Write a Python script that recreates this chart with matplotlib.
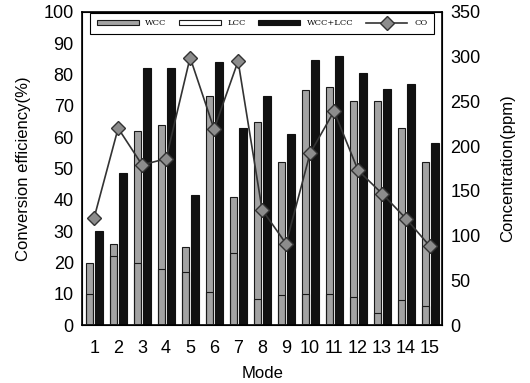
import numpy as np
import matplotlib.pyplot as plt

plt.rcParams['font.family'] = ['Liberation Sans', 'DejaVu Sans']

modes = list(range(1, 16))
wcc = [20, 26, 62, 64, 25, 73, 41, 65, 52, 75, 76, 71.5, 71.5, 63, 52]
lcc = [10, 22, 20, 18, 17, 10.5, 23, 8.5, 9.5, 10, 10, 9, 4, 8, 6]
wcc_lcc = [30, 48.5, 82, 82, 41.5, 84, 63, 73, 61, 84.5, 86, 80.5, 75.5, 77, 58]
co = [120, 220, 179, 186, 299, 219, 295, 129, 91, 192, 239, 173, 147, 119, 88]

x = np.arange(len(modes)) + 1

fig = plt.figure(figsize=(5.3, 3.83), dpi=100)
ax = fig.add_axes([0.155, 0.151, 0.679, 0.818])

ax.bar(x - 0.2, wcc, width=0.28, color="#a3a3a3", edgecolor="#1a1a1a",
       linewidth=0.8, label="WCC", zorder=2)
# LCC drawn as an outline over the WCC bar, only its top edge stands out
ax.bar(x - 0.2, lcc, width=0.28, facecolor="none", edgecolor="#1a1a1a",
       linewidth=0.8, label="LCC", zorder=3)
ax.bar(x + 0.2, wcc_lcc, width=0.33, color="#111111", edgecolor="#111111",
       linewidth=0.8, label="WCC+LCC", zorder=2)

ax.set_xlim(0.5, 15.5)
ax.set_ylim(0, 100)
ax.set_yticks(range(0, 101, 10))
ax.set_xticks(x)
ax.set_xticklabels([str(m) for m in modes])
ax.tick_params(axis="y", length=0, labelsize=13, pad=6)
ax.tick_params(axis="x", length=0, labelsize=13, pad=11)
ax.set_ylabel("Conversion efficiency(%)", fontsize=12, labelpad=9)
ax.set_xlabel("Mode", fontsize=12, labelpad=6)
for s in ax.spines.values():
    s.set_linewidth(1.2)

ax2 = ax.twinx()
ax2.plot(x, co, color="#333333", linewidth=1.2, marker="D", markersize=7,
         markerfacecolor="#8c8c8c", markeredgecolor="#333333", label="CO")
ax2.set_ylim(0, 350)
ax2.set_yticks(range(0, 351, 50))
ax2.tick_params(length=0, labelsize=13, pad=6)
ax2.set_ylabel("Concentration(ppm)", fontsize=12, labelpad=14)

h1, l1 = ax.get_legend_handles_labels()
h2, l2 = ax2.get_legend_handles_labels()
leg = ax2.legend(h1 + h2, l1 + l2, ncol=4, loc="upper center",
                 bbox_to_anchor=(0.5, 1.0), fancybox=False, edgecolor="black",
                 handlelength=5, handleheight=0.6, columnspacing=1.5,
                 prop={"family": "DejaVu Serif", "size": 6}, borderaxespad=0.1,
                 borderpad=0.8, framealpha=1)
leg.get_frame().set_linewidth(0.8)

plt.savefig("out.png", dpi=100)
